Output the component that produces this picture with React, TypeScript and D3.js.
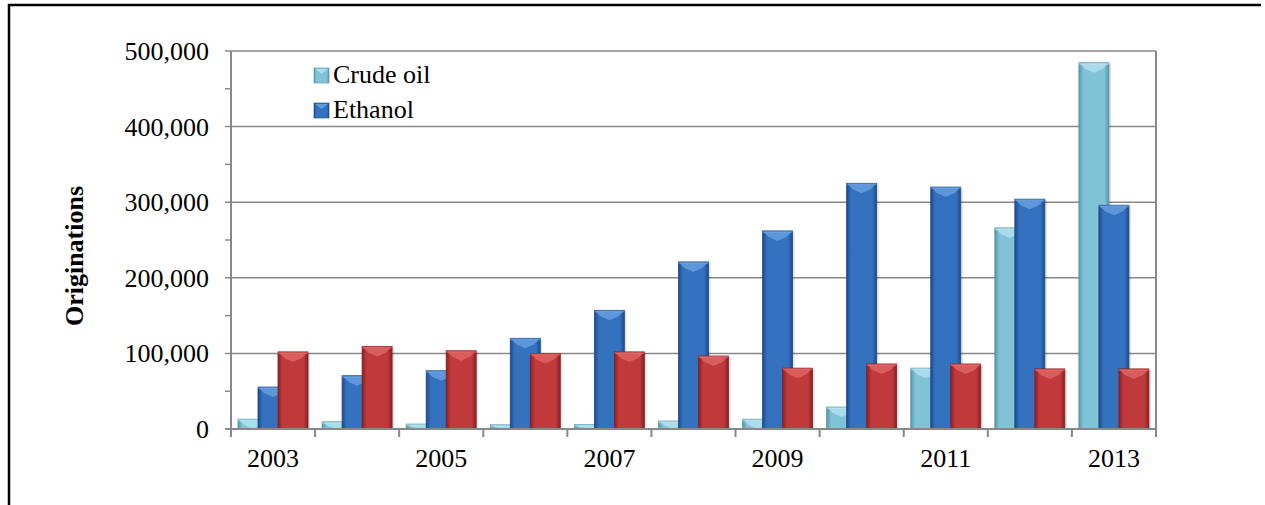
import * as d3 from "d3";

const years = ["2003", "2004", "2005", "2006", "2007", "2008", "2009", "2010", "2011", "2012", "2013"];
const crudeOil = [13000, 9500, 6500, 5500, 6000, 10500, 13000, 29000, 80500, 266000, 484500];
const ethanol = [55500, 70500, 77000, 120000, 157000, 221000, 262000, 325000, 320000, 304000, 296000];
const other = [102000, 109000, 103500, 100000, 102000, 96500, 80500, 86000, 86000, 79500, 79500];
const yTicks = [0, 100000, 200000, 300000, 400000, 500000];
const yMinorTicks = [50000, 150000, 250000, 350000, 450000];
const legendNames = ["Crude oil", "Ethanol"];

const series = [
  { key: "crude", values: crudeOil, edge: "#5896a8", body: "#80c2d6", light: "#bfe8f4" },
  { key: "ethanol", values: ethanol, edge: "#1d4a88", body: "#3472c0", light: "#74aae6" },
  { key: "other", values: other, edge: "#8a1f22", body: "#c0393b", light: "#e87070" },
];

const font = "'Liberation Serif', 'Times New Roman', serif";

export default function App() {
  // Specify the chart's dimensions.
  const width = 1265;
  const height = 505;
  const left = 231;
  const right = 1156;
  const top = 51;
  const bottom = 429;

  const x = d3.scaleBand().domain(years).range([left, right]).padding(0);
  const y = d3.scaleLinear().domain([0, 500000]).range([bottom, top]);

  // Bars overlap each other inside a category, later series drawn on top.
  const inner = d3
    .scaleBand()
    .domain(series.map((s) => s.key))
    .range([7, 67])
    .padding(0);
  const barW = inner.bandwidth() * 1.5;

  const bar = (key: string, i: number, v: number) => {
    const s = series.find((d) => d.key === key)!;
    const x0 = (x(years[i]) ?? 0) + (inner(key) ?? 0);
    const y0 = y(v);
    const h = bottom - y0;
    const bev = Math.min(10, h);
    return (
      <g key={key + i}>
        <rect x={x0 + 2} y={y0 + 1} width={barW} height={h} fill="#000" opacity={0.12} />
        <rect
          x={x0}
          y={y0}
          width={barW}
          height={h}
          fill={`url(#grad-${key})`}
          stroke={s.edge}
          strokeWidth={0.8}
        />
        <polygon
          points={`${x0 + 1},${y0 + 1} ${x0 + barW - 1},${y0 + 1} ${x0 + barW - 6},${y0 + bev * 0.6} ${x0 + barW / 2},${y0 + bev} ${x0 + 6},${y0 + bev * 0.6}`}
          fill={s.light}
          opacity={0.65}
        />
        <rect x={x0} y={y0} width={barW} height={Math.min(2, h)} fill={s.light} opacity={0.5} />
      </g>
    );
  };

  return (
    <div style={{ position: "absolute", left: 0, top: 0 }}>
      <svg width={width} height={height} style={{ display: "block" }} fontFamily={font}>
        <defs>
          {series.map((s) => (
            <linearGradient key={s.key} id={`grad-${s.key}`} x1="0" x2="1" y1="0" y2="0">
              <stop offset="0" stopColor={s.edge} />
              <stop offset="0.15" stopColor={s.body} />
              <stop offset="0.5" stopColor={s.body} />
              <stop offset="0.85" stopColor={s.body} />
              <stop offset="1" stopColor={s.edge} />
            </linearGradient>
          ))}
        </defs>

        {/* outer frame */}
        <line x1={8} x2={1261} y1={5} y2={5} stroke="#000" strokeWidth={2.5} />
        <line x1={9} x2={9} y1={4} y2={505} stroke="#000" strokeWidth={2.5} />

        {/* gridlines and y ticks */}
        {yTicks.map((t) => (
          <line key={t} x1={left - 6} x2={right} y1={y(t)} y2={y(t)} stroke="#888" strokeWidth={1.5} />
        ))}
        {yMinorTicks.map((t) => (
          <line key={t} x1={left - 6} x2={left} y1={y(t)} y2={y(t)} stroke="#888" strokeWidth={1.5} />
        ))}
        {yTicks.map((t) => (
          <text key={t} x={209} y={y(t) + 9} textAnchor="end" fontSize={26} fill="#000">
            {d3.format(",")(t)}
          </text>
        ))}

        {/* bars */}
        {series.map((s) => s.values.map((v, i) => bar(s.key, i, v)))}

        {/* axes */}
        <line x1={left} x2={left} y1={top} y2={bottom} stroke="#888" strokeWidth={2} />
        <line x1={right} x2={right} y1={top} y2={bottom + 8} stroke="#888" strokeWidth={2} />
        <line x1={left - 6} x2={right} y1={bottom} y2={bottom} stroke="#888" strokeWidth={2} />
        {years.map((yr) => (
          <line
            key={yr}
            x1={x(yr)}
            x2={x(yr)}
            y1={bottom}
            y2={bottom + 8}
            stroke="#888"
            strokeWidth={2}
          />
        ))}
        {years.map((yr, i) =>
          i % 2 === 0 ? (
            <text
              key={yr}
              x={(x(yr) ?? 0) + x.bandwidth() / 2}
              y={467}
              textAnchor="middle"
              fontSize={26}
              fill="#000"
            >
              {yr}
            </text>
          ) : null,
        )}

        {/* axis title */}
        <text
          transform={`translate(83,256) rotate(-90)`}
          textAnchor="middle"
          fontSize={26}
          fontWeight="bold"
          fill="#000"
        >
          Originations
        </text>

        {/* legend */}
        {legendNames.map((name, i) => (
          <g key={name} transform={`translate(314,${68 + i * 35})`}>
            <rect width={15} height={15} fill={`url(#grad-${series[i].key})`} stroke={series[i].edge} strokeWidth={0.6} />
            <polygon points="1,1 14,1 7.5,6" fill={series[i].light} opacity={0.7} />
            <text x={19} y={15} fontSize={26} fill="#000">
              {name}
            </text>
          </g>
        ))}
      </svg>
    </div>
  );
}
